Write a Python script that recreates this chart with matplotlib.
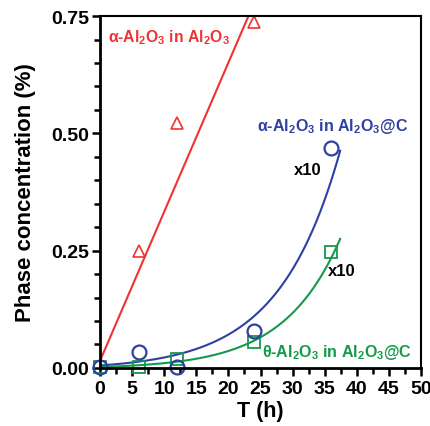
import numpy as np
import matplotlib
matplotlib.use('Agg')
import matplotlib.pyplot as plt
from matplotlib.ticker import MultipleLocator

plt.rcParams['font.family'] = ['Liberation Sans', 'DejaVu Sans']
plt.rcParams['font.weight'] = 'bold'

RED = '#f03232'
BLUE = '#2f40a0'
GREEN = '#15994a'

# measured points
t_red = [6, 12, 24]
y_red = [0.25, 0.523, 0.737]

t_blue = [0, 6, 12, 24, 36]
y_blue = [0.003, 0.034, 0.003, 0.079, 0.469]

t_green = [0, 6, 12, 24, 36]
y_green = [0.002, 0.003, 0.02, 0.056, 0.247]

# fitted lines
red_fit = (0.0318, 0.015)            # slope, intercept
blue_fit = (0.0092, 0.105, -0.004)   # A, b, c  -> A*exp(b*t)+c
green_fit = (0.0039, 0.114, -0.002)
fit_end = 37.4


fig = plt.figure(figsize=(4.31, 4.27), dpi=100)
ax = fig.add_axes([0.232, 0.136, 0.745, 0.824])

t = np.linspace(0, 30, 50)
ax.plot(t, red_fit[0] * t + red_fit[1], color=RED, lw=1.5)
t = np.linspace(0, fit_end, 200)
ax.plot(t, blue_fit[0] * np.exp(blue_fit[1] * t) + blue_fit[2], color=BLUE, lw=1.5)
ax.plot(t, green_fit[0] * np.exp(green_fit[1] * t) + green_fit[2], color=GREEN, lw=1.5)

ax.plot(t_green, y_green, 's', ms=8, mfc='none', mec=GREEN, mew=1.3, clip_on=False)
ax.plot(t_blue, y_blue, 'o', ms=10, mfc='none', mec=BLUE, mew=1.6, clip_on=False)
ax.plot(t_red, y_red, '^', ms=9, mfc='none', mec=RED, mew=1.2, clip_on=False)

sub = lambda s: r'$_{\mathregular{%s}}$' % s
ax.text(1.3, 0.707, 'α-Al' + sub('2') + 'O' + sub('3') + ' in Al' + sub('2') + 'O' + sub('3'),
        color=RED, fontsize=11.3, va='center')
ax.text(24.4, 0.516, 'α-Al' + sub('2') + 'O' + sub('3') + ' in Al' + sub('2') + 'O' + sub('3') + '@C',
        color=BLUE, fontsize=11.5, va='center')
ax.text(25.2, 0.034, 'θ-Al' + sub('2') + 'O' + sub('3') + ' in Al' + sub('2') + 'O' + sub('3') + '@C',
        color=GREEN, fontsize=11.5, va='center')
ax.text(30.2, 0.424, 'x10', color='black', fontsize=12, va='center')
ax.text(35.5, 0.207, 'x10', color='black', fontsize=12, va='center')

ax.set_xlim(0, 50)
ax.set_ylim(0, 0.75)
ax.xaxis.set_major_locator(MultipleLocator(5))
ax.xaxis.set_minor_locator(MultipleLocator(2.5))
ax.yaxis.set_major_locator(MultipleLocator(0.25))
ax.yaxis.set_minor_locator(MultipleLocator(0.05))
ax.yaxis.set_major_formatter(plt.FormatStrFormatter('%.2f'))
ax.tick_params(which='both', direction='out', width=1.8, labelsize=14)
ax.tick_params(which='major', length=6)
ax.tick_params(which='minor', length=4)
ax.tick_params(axis='y', pad=2)
ax.tick_params(axis='x', pad=3)
for s in ['left', 'bottom']:
    ax.spines[s].set_linewidth(2)
for s in ['top', 'right']:
    ax.spines[s].set_linewidth(1.5)

ax.set_xlabel('T (h)', fontsize=15.5, fontweight='bold', labelpad=2)
ax.set_ylabel('Phase concentration (%)', fontsize=16, fontweight='bold', labelpad=11)

fig.savefig('out.png', dpi=100)
